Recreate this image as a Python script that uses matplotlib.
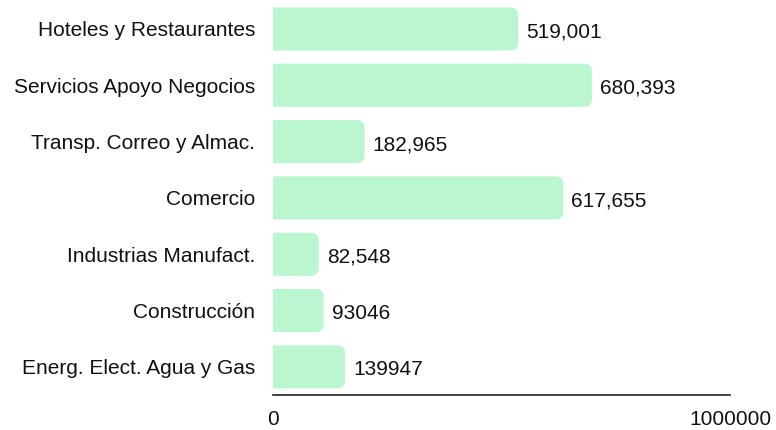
import matplotlib
matplotlib.use("Agg")
import matplotlib.pyplot as plt
from matplotlib.path import Path
from matplotlib.patches import PathPatch

categories = ["Hoteles y Restaurantes", "Servicios Apoyo Negocios", "Transp. Correo y Almac.",
              "Comercio", "Industrias Manufact.", "Construcción", "Energ. Elect. Agua y Gas"]
values = [519001, 680393, 182965, 617655, 82548, 93046, 139947]
value_labels = ["519,001", "680,393", "182,965", "617,655", "82,548", "93046", "139947"]
tick_values = [0, 1000000]
tick_labels = ["0", "1000000"]

plt.rcParams['font.family'] = ['Liberation Sans', 'DejaVu Sans']

fig = plt.figure(figsize=(7.76, 4.30), dpi=100)
left, right = 273 / 776, 730 / 776
bottom, top = 1 - 395 / 430, 1 - 0.8 / 430
ax = fig.add_axes([left, bottom, right - left, top - bottom])

color = "#BAF7D0"
bars = ax.barh(range(len(values)), values, height=0.765, color=color)
ax.set_xlim(tick_values[0], tick_values[-1])
ax.set_ylim(6.5, -0.5)

# rounded right end cap (extends a few pixels past the value)
fig.canvas.draw()
px_per_x = ax.bbox.width / (tick_values[-1] - tick_values[0])
px_per_y = ax.bbox.height / 7.0
r_px = 7
cap_px = 8
for b in bars:
    x0, y0 = b.get_x(), b.get_y()
    w, h = b.get_width(), b.get_height()
    x1, y1 = x0 + w + cap_px / px_per_x, y0 + h
    rx = r_px / px_per_x
    ry = r_px / px_per_y
    k = 0.5523
    verts = [(x0, y0), (x1 - rx, y0),
             (x1 - rx + k * rx, y0), (x1, y0 + ry - k * ry), (x1, y0 + ry),
             (x1, y1 - ry),
             (x1, y1 - ry + k * ry), (x1 - rx + k * rx, y1), (x1 - rx, y1),
             (x0, y1), (x0, y0)]
    codes = [Path.MOVETO, Path.LINETO,
             Path.CURVE4, Path.CURVE4, Path.CURVE4,
             Path.LINETO,
             Path.CURVE4, Path.CURVE4, Path.CURVE4,
             Path.LINETO, Path.CLOSEPOLY]
    pp = PathPatch(Path(verts, codes), facecolor=color, edgecolor='none', zorder=2)
    pp.set_clip_on(False)
    ax.add_patch(pp)
    b.set_visible(False)

for i, (v, lab) in enumerate(zip(values, value_labels)):
    ax.annotate(lab, (v, i), xytext=(cap_px + 8, -3), textcoords='offset pixels',
                va='center', ha='left', fontsize=15, color='#111111')

ax.set_yticks(range(len(categories)))
ax.set_yticklabels(categories, fontsize=15, color='#111111')
ax.set_xticks(tick_values)
ax.set_xticklabels(tick_labels, fontsize=15, color='#111111')
ax.tick_params(axis='y', length=0, pad=13)
ax.tick_params(axis='x', length=0, pad=11)
for s in ['top', 'right', 'left']:
    ax.spines[s].set_visible(False)
ax.spines['bottom'].set_color('#222222')
ax.spines['bottom'].set_linewidth(1.2)

fig.savefig("out.png", dpi=100)
